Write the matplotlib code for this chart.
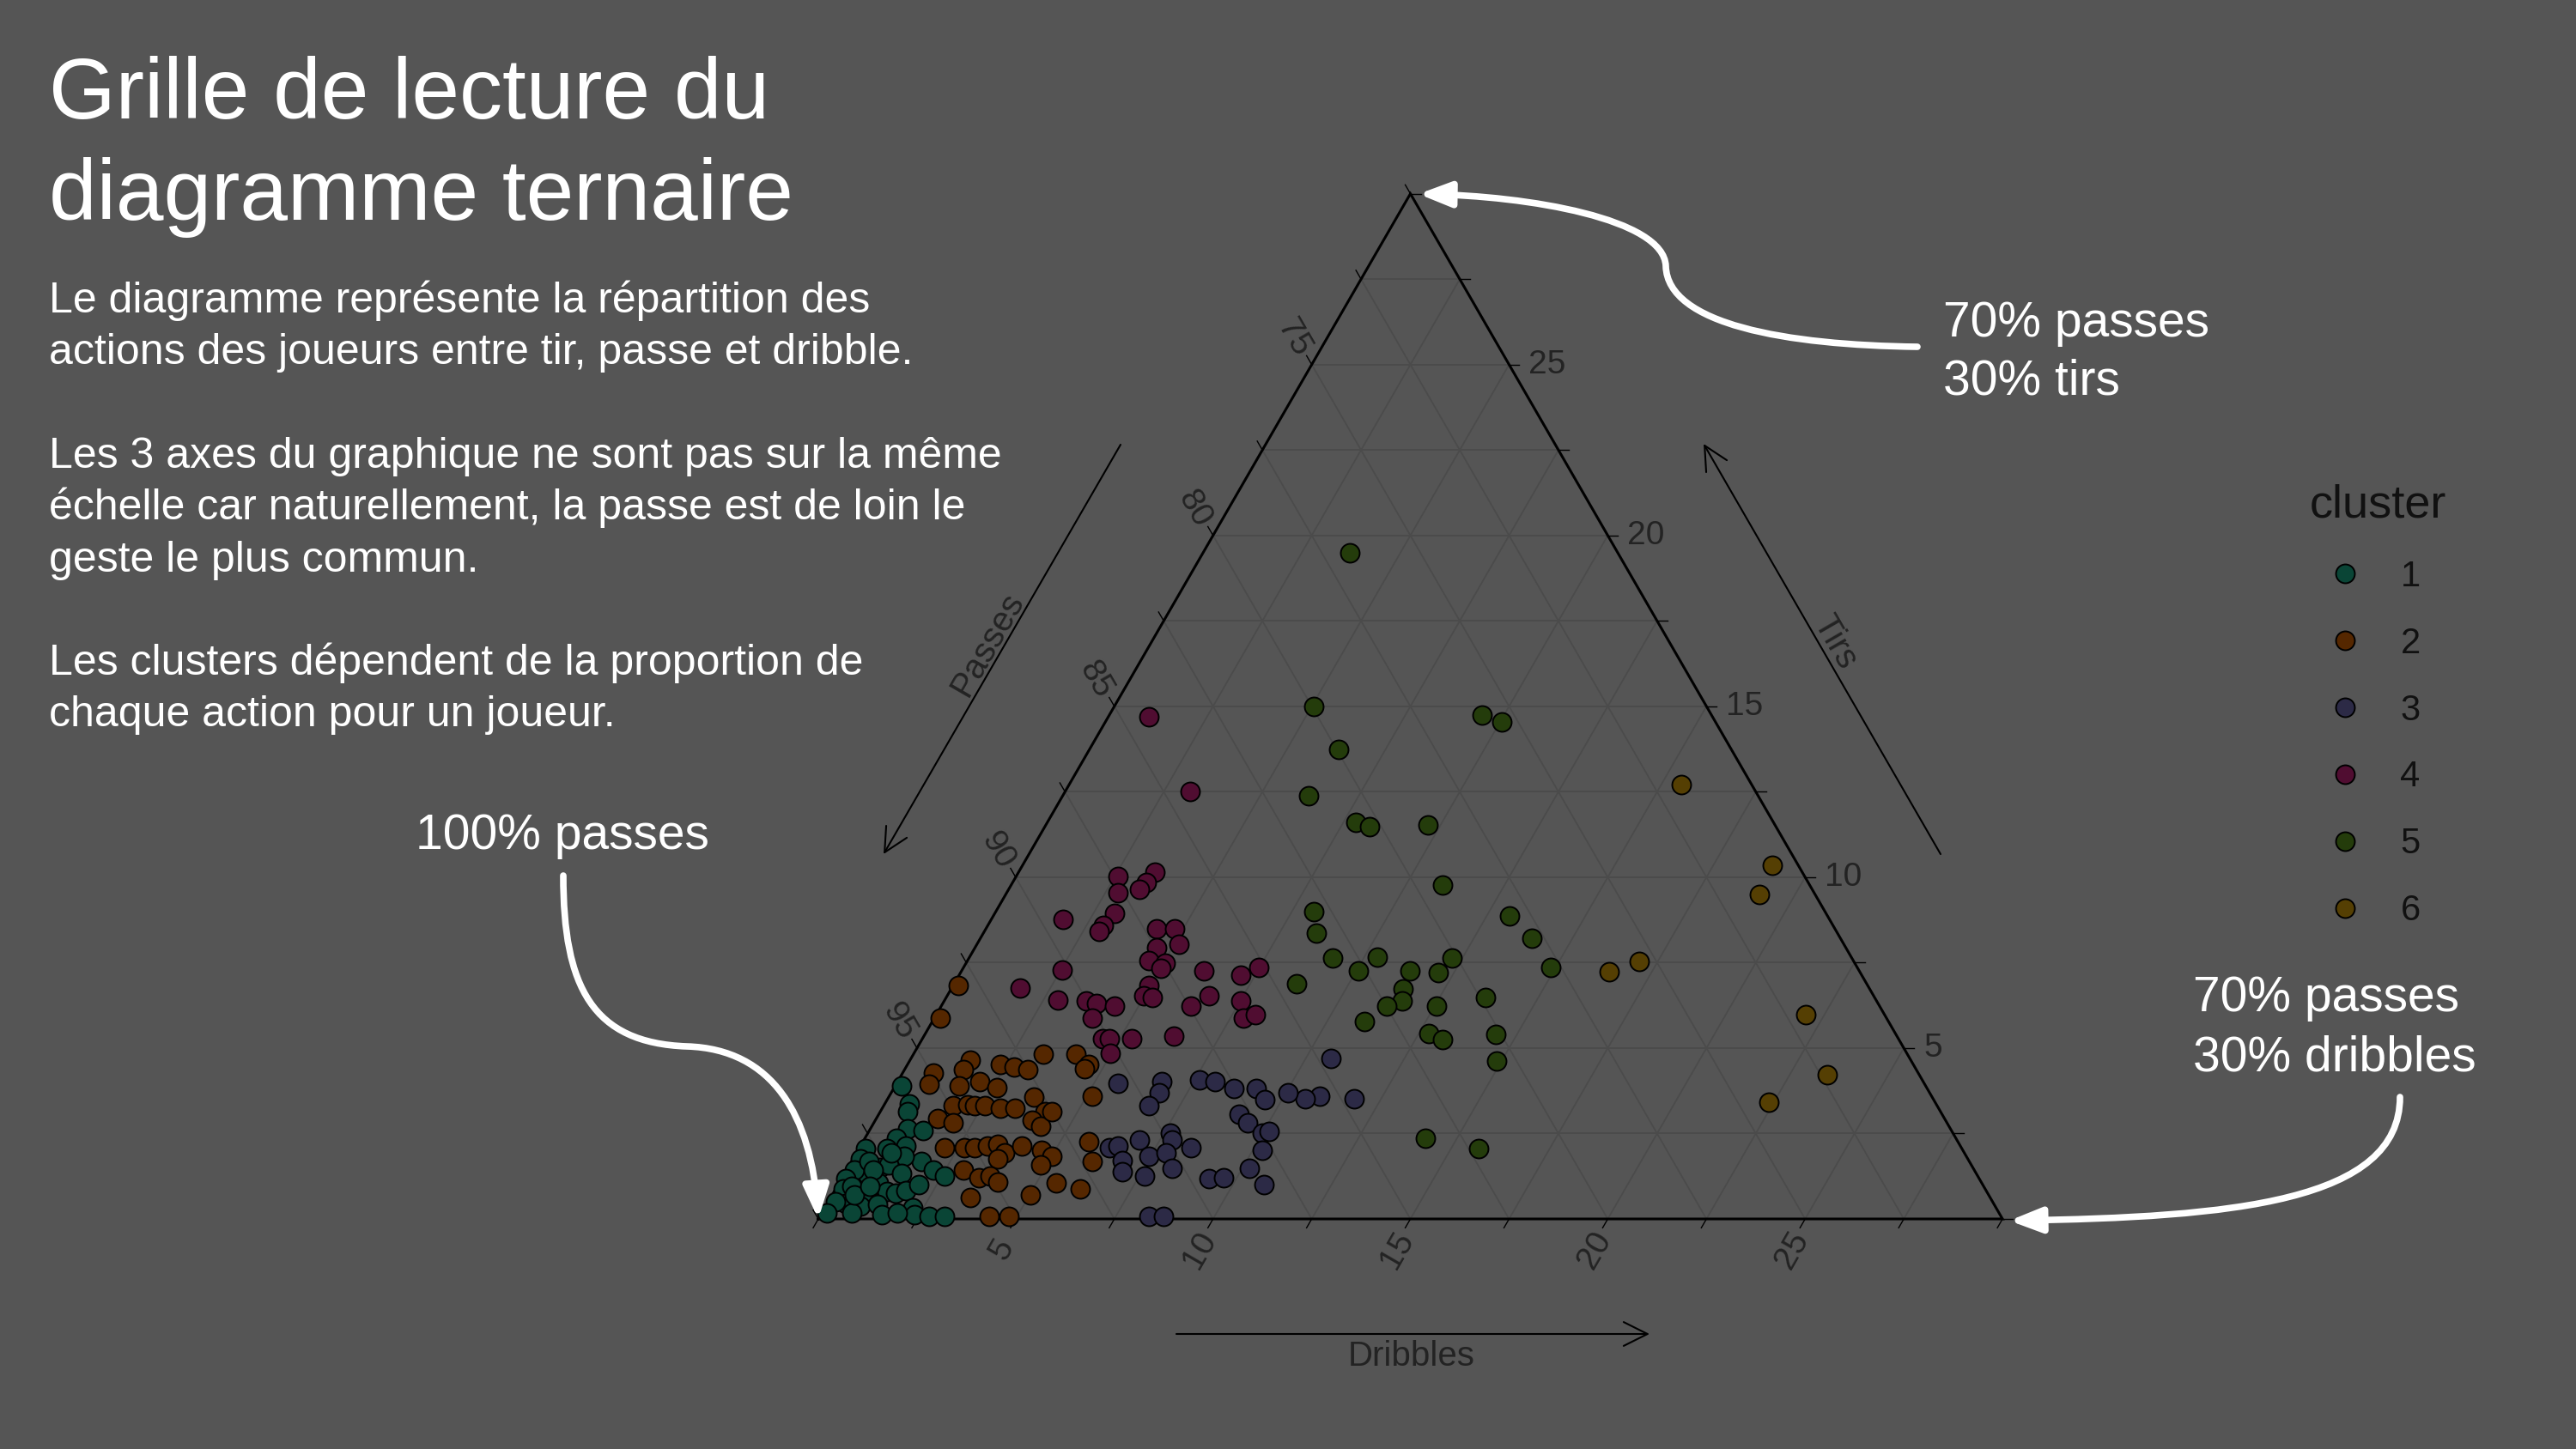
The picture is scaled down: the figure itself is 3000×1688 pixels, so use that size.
import numpy as np
import matplotlib.pyplot as plt
from matplotlib.path import Path
from matplotlib.patches import FancyArrowPatch, ArrowStyle

plt.rcParams['font.family'] = ['Liberation Sans', 'DejaVu Sans']

# values: share of dribbles and of tirs (in %) for each player,
# passes make up the rest
c1_dribbles = [0.15, 0.61, 0.70, 0.94, 1.36, 0.81, 1.15, 0.18, 0.72, 1.78, 1.26, 0.18, 0.81, 0.99,
               1.44, 2.19, 2.57, 0.59, 0.20, 1.00, 1.35, 1.59, 1.80, 2.04, 0.11, 0.18, 0.65, 0.86,
               0.47, 0.87, 1.29, 2.23, 2.37, 2.76, 3.16, 0.19, 0.14, 0.76, 1.54, 1.91, 0.44, 0.36,
               0.67, 0.89, 0.56, 0.83]
c1_tirs = [3.90, 3.37, 3.14, 2.64, 2.58, 2.35, 2.14, 2.05, 2.05, 1.68, 1.84, 1.76, 1.51, 1.59,
           1.34, 1.43, 1.26, 1.30, 1.43, 1.05, 0.80, 0.75, 0.84, 1.01, 1.17, 0.88, 0.67, 0.75,
           0.46, 0.38, 0.42, 0.33, 0.13, 0.08, 0.08, 0.50, 0.17, 0.17, 0.13, 0.18, 1.68, 0.96,
           1.43, 1.93, 0.71, 0.96]

c2_dribbles = [3.29, 1.52, 1.49, 0.77, 0.83, 2.35, 2.75, 3.12, 2.09, 2.61, 1.61, 1.76, 2.10, 2.30,
               2.56, 3.00, 3.36, 3.67, 4.17, 3.97, 4.27, 1.55, 2.01, 2.15, 2.66, 2.91, 3.22, 3.45,
               3.76, 3.66, 4.09, 4.66, 5.00, 4.83, 2.96, 3.46, 3.73, 4.00, 5.50, 5.02, 3.54, 4.28,
               4.79, 4.12, 4.59, 4.55, 5.13, 4.35, 5.73, 6.09, 6.20, 0.13, 0.16]
c2_tirs = [4.82, 4.65, 4.36, 4.27, 3.94, 4.53, 4.44, 4.36, 4.02, 3.85, 3.90, 3.31, 3.35, 3.31,
           3.31, 3.23, 3.23, 3.56, 3.14, 2.89, 2.72, 2.93, 2.81, 2.09, 2.09, 2.09, 2.14, 2.18,
           1.93, 1.76, 2.14, 2.01, 1.84, 1.59, 1.43, 1.21, 1.26, 1.09, 1.05, 0.71, 0.63, 0.08,
           0.08, 4.82, 4.53, 4.40, 3.60, 3.14, 2.26, 1.68, 0.88, 6.84, 5.87]

c3_dribbles = [5.60, 6.70, 6.79, 6.73, 7.62, 8.04, 8.62, 9.20, 9.58, 9.14, 9.48, 9.99, 10.24, 10.19,
               10.78, 9.32, 9.66, 7.67, 7.81, 6.98, 6.32, 6.52, 6.83, 7.00, 7.46, 7.85, 8.39, 8.23,
               7.64, 8.34, 8.70, 10.64, 11.81, 10.90, 10.57, 10.05, 10.14]
c3_tirs = [3.98, 4.02, 3.69, 3.31, 4.07, 4.02, 3.81, 3.81, 3.48, 3.06, 2.81, 2.51, 2.01, 1.47,
           1.01, 1.17, 1.21, 2.51, 2.31, 2.31, 2.09, 2.14, 1.72, 1.38, 1.84, 1.93, 2.09, 1.47,
           1.26, 0.08, 0.08, 4.69, 3.52, 3.60, 3.52, 3.69, 2.56]

c4_dribbles = [2.58, 2.81, 3.45, 3.38, 3.31, 1.83, 3.05, 2.93, 2.90, 4.32, 4.79, 5.12, 4.59, 4.60,
               5.04, 5.01, 2.53, 1.74, 2.86, 3.60, 3.89, 3.99, 4.39, 4.97, 4.97, 5.21, 6.33, 6.14,
               6.63, 7.13, 7.52, 7.84, 4.55, 4.73, 4.97, 5.31, 6.32, 7.47, 8.08, 1.04, 3.18]
c4_tirs = [10.02, 9.55, 10.16, 9.85, 9.64, 8.76, 8.93, 8.59, 8.42, 8.48, 8.48, 8.05, 7.95, 7.56,
           7.48, 7.33, 7.29, 6.75, 6.41, 6.37, 6.30, 5.88, 6.24, 6.83, 6.54, 6.49, 6.22, 7.25,
           6.54, 7.14, 6.37, 5.87, 5.28, 5.28, 4.86, 5.28, 5.36, 7.37, 5.99, 14.69, 12.50]

c5_dribbles = [3.72, 5.06, 9.44, 10.05, 6.31, 6.24, 7.82, 8.23, 9.68, 10.93, 8.06, 8.43, 13.07,
               13.96, 14.87, 9.21, 10.32, 10.06, 12.23, 11.36, 12.10, 8.68, 11.45, 11.59, 11.29,
               12.55, 13.66, 10.95, 12.75, 13.19, 14.47, 14.87, 14.21, 15.69]
c5_tirs = [19.49, 15.00, 14.75, 14.54, 13.73, 12.38, 11.61, 11.48, 11.52, 9.76, 9.00, 8.37, 8.87,
           8.22, 7.37, 7.63, 7.67, 7.25, 7.63, 7.25, 7.22, 6.87, 6.72, 6.39, 6.23, 6.23, 6.49,
           5.77, 5.42, 5.26, 5.39, 4.61, 2.35, 2.07]

c6_dribbles = [15.51, 18.99, 19.09, 17.03, 22.03, 23.45, 22.37, 16.42]
c6_tirs = [12.72, 10.35, 9.50, 7.54, 5.98, 4.23, 3.42, 7.23]

clusters = ['1', '2', '3', '4', '5', '6']
cluster_colors = ['#0a4536', '#552700', '#2c2a46', '#500d31', '#243c0b', '#553f03']

side_ticks = [5, 10, 15, 20, 25]          # tirs and dribbles, 0-30 %
passes_ticks = [75, 80, 85, 90, 95]       # passes, 70-100 %

title_lines = ['Grille de lecture du', 'diagramme ternaire']
body_lines = ['Le diagramme représente la répartition des',
              'actions des joueurs entre tir, passe et dribble.',
              '',
              'Les 3 axes du graphique ne sont pas sur la même',
              'échelle car naturellement, la passe est de loin le',
              'geste le plus commun.',
              '',
              'Les clusters dépendent de la proportion de',
              'chaque action pour un joueur.']

BG = '#555555'
GRID = '#4b4b4b'
DARK = '#232323'

fig = plt.figure(figsize=(30, 16.88), dpi=100, facecolor=BG)

# ternary panel: one data unit = one percentage point, 45.97 px
unit = 45.97
ax = fig.add_axes([0, 0, 1, 1])
ax.set_xlim(-953 / unit, (3000 - 953) / unit)
ax.set_ylim(-(1688 - 1420) / unit, 1420 / unit)
ax.axis('off')

H = np.sqrt(3) / 2


def tern(d, t):
    d = np.asarray(d, float)
    t = np.asarray(t, float)
    return d + t / 2, t * H


# grid every 2.5 %
for k in np.arange(2.5, 30, 2.5):
    for dd, tt in (([0, 30 - k], [k, k]), ([k, k], [0, 30 - k]), ([k, 0], [0, k])):
        x, y = tern(dd, tt)
        ax.plot(x, y, color=GRID, lw=1.3, zorder=1)

x, y = tern([0, 30, 0, 0], [0, 0, 30, 0])
ax.plot(x, y, color='black', lw=2.2, zorder=3, solid_joinstyle='miter')

# ticks
tl = 0.26
for k in np.arange(0, 30.01, 2.5):
    x0, y0 = tern(k, 0)
    ax.plot([x0, x0 - 0.5 * tl], [y0, y0 - H * tl], color='black', lw=1, zorder=3)
    x0, y0 = tern(30 - k, k)
    ax.plot([x0, x0 + tl], [y0, y0], color='black', lw=1, zorder=3)
    x0, y0 = tern(0, k)
    ax.plot([x0, x0 - 0.5 * tl], [y0, y0 + H * tl], color='black', lw=1, zorder=3)

for v in side_ticks:
    x0, y0 = tern(v, 0)
    ax.text(x0 - 0.33, y0 - 0.78, str(v), rotation=60, ha='center', va='center',
            fontsize=28, color=DARK)
    x0, y0 = tern(30 - v, v)
    ax.text(x0 + 0.5, y0, str(v), ha='left', va='center', fontsize=28, color=DARK)
for p in passes_ticks:
    x0, y0 = tern(0, 100 - p)
    ax.text(x0 - 0.47, y0 + 0.68, str(p), rotation=-60, ha='center', va='center',
            fontsize=28, color=DARK)

all_dribbles = [c1_dribbles, c2_dribbles, c3_dribbles, c4_dribbles, c5_dribbles, c6_dribbles]
all_tirs = [c1_tirs, c2_tirs, c3_tirs, c4_tirs, c5_tirs, c6_tirs]
handles = []
for dr, ti, col in zip(all_dribbles, all_tirs, cluster_colors):
    x, y = tern(dr, ti)
    h = ax.scatter(x, y, s=250, facecolor=col, edgecolor='black', linewidths=1.4, zorder=5)
    handles.append(h)

leg = ax.legend(handles, clusters, title='cluster', frameon=False, fontsize=30,
                title_fontsize=39, handlelength=0.5, handletextpad=1.3, labelspacing=0.91,
                borderpad=0, scatterpoints=1, scatteryoffsets=[0.5], loc='upper left',
                bbox_to_anchor=(2669 / 3000, 1 - 543 / 1688), bbox_transform=fig.transFigure)
leg.get_title().set_color('#111111')
for t in leg.get_texts():
    t.set_color('#111111')

# overlay in reference pixels for text and annotations
ov = fig.add_axes([0, 0, 1, 1])
ov.set_xlim(0, 3000)
ov.set_ylim(1688, 0)
ov.axis('off')
ov.patch.set_alpha(0)

ov.text(1150, 750, 'Passes', rotation=60, ha='center', va='center', fontsize=29, color=DARK)
ov.text(2137, 748, 'Tirs', rotation=-60, ha='center', va='center', fontsize=29, color=DARK)
ov.text(1644, 1580, 'Dribbles', ha='center', va='center', fontsize=29, color=DARK)
for start, end in (((1305, 518), (1029, 995)), ((2260, 995), (1984, 517)),
                   ((1370, 1554), (1921, 1554))):
    ov.annotate('', xy=end, xytext=start,
                arrowprops=dict(arrowstyle='->', color='black', lw=1.5, mutation_scale=50,
                                shrinkA=0, shrinkB=0))

for i, line in enumerate(title_lines):
    ov.text(57, 138 + i * 118, line, fontsize=72, color='white', va='baseline')
for i, line in enumerate(body_lines):
    ov.text(57, 364 + i * 60.3, line, fontsize=36, color='white', va='baseline')

ov.text(2263, 392, '70% passes', fontsize=41, color='white', va='baseline')
ov.text(2263, 460, '30% tirs', fontsize=41, color='white', va='baseline')
ov.text(2554, 1178, '70% passes', fontsize=41, color='white', va='baseline')
ov.text(2554, 1247, '30% dribbles', fontsize=41, color='white', va='baseline')
ov.text(484, 989, '100% passes', fontsize=41, color='white', va='baseline')

C4, M = Path.CURVE4, Path.MOVETO
curves = [
    ([(2233, 404), (2080, 402), (1942, 378), (1940, 310),
      (1938, 255), (1780, 228), (1652, 226)], [M, C4, C4, C4, C4, C4, C4]),
    ([(656, 1020), (656, 1150), (690, 1215), (800, 1219),
      (900, 1222), (945, 1300), (953, 1420)], [M, C4, C4, C4, C4, C4, C4]),
    ([(2795, 1278), (2795, 1400), (2600, 1418), (2340, 1422)], [M, C4, C4, C4]),
]
style = ArrowStyle('-|>', head_length=0.9, head_width=0.35)
for verts, codes in curves:
    arr = FancyArrowPatch(path=Path(verts, codes), arrowstyle=style, mutation_scale=25,
                          lw=5.5, color='white', transform=ov.transData, zorder=10)
    ov.add_patch(arr)

fig.savefig('out.png', dpi=100, facecolor=BG)
